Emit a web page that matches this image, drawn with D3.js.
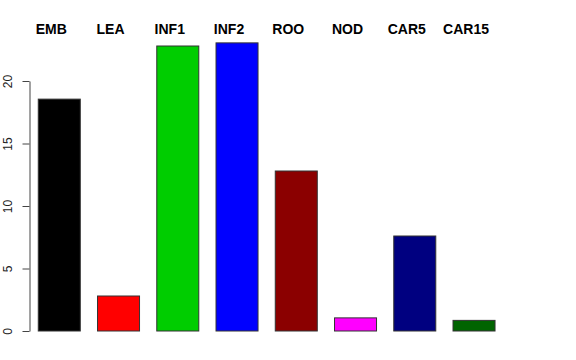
<!DOCTYPE html>
<html>
<head>
<meta charset="utf-8">
<script src="https://cdn.jsdelivr.net/npm/d3@7"></script>
<style>
  body { margin: 0; background: #fff; }
  svg { display: block; font-family: "Liberation Sans", Arial, sans-serif; }
</style>
</head>
<body>
<svg id="chart" width="576" height="360"></svg>
<script>
// tissues and the value of each bar
var tissues = ["EMB", "LEA", "INF1", "INF2", "ROO", "NOD", "CAR5", "CAR15"];
var values = [18.55, 2.8, 22.8, 23.05, 12.8, 1.05, 7.6, 0.85];
var colors = ["#000000", "#ff0000", "#00cd00", "#0000ff", "#8b0000", "#ff00ff", "#000080", "#006400"];
var yTicks = [0, 5, 10, 15, 20];

var svg = d3.select("#chart");

// bars sit in a band scale, y axis runs 0..20 like the R plot
var x = d3.scaleBand()
    .domain(tissues)
    .range([28.2, 505.1])
    .paddingInner(0.291)
    .paddingOuter(0.17);

var y = d3.scaleLinear()
    .domain([0, 20])
    .range([331, 81]);

svg.append("g")
    .selectAll("rect")
    .data(tissues)
    .enter()
    .append("rect")
        .attr("x", function(d){ return x(d); })
        .attr("y", function(d, i){ return y(values[i]); })
        .attr("width", x.bandwidth())
        .attr("height", function(d, i){ return y(0) - y(values[i]); })
        .attr("fill", function(d, i){ return colors[i]; })
        .attr("stroke", "#333")
        .attr("stroke-width", 1);

// labels on top, a bit left of bar centre
svg.append("g")
    .selectAll("text")
    .data(tissues)
    .enter()
    .append("text")
        .attr("x", function(d){ return x(d) + x.bandwidth() / 2 - 8; })
        .attr("y", 34)
        .attr("text-anchor", "middle")
        .attr("font-weight", "bold")
        .attr("font-size", "14px")
        .text(function(d){ return d; });

var axis = d3.axisLeft(y)
    .tickValues(yTicks)
    .tickSize(7)
    .tickPadding(0)
    .tickSizeOuter(0);

var gy = svg.append("g")
    .attr("transform", "translate(29.5,0)")
    .call(axis);

gy.select(".domain").attr("stroke", "#444");
gy.selectAll(".tick line").attr("stroke", "#444");
gy.selectAll(".tick text")
    .attr("font-size", "12px")
    .attr("font-family", "Liberation Sans, Arial, sans-serif")
    .attr("fill", "#222")
    .attr("text-anchor", "middle")
    .attr("transform", "translate(-22,0) rotate(-90)")
    .attr("x", 0)
    .attr("dy", "0.35em");
</script>
</body>
</html>
